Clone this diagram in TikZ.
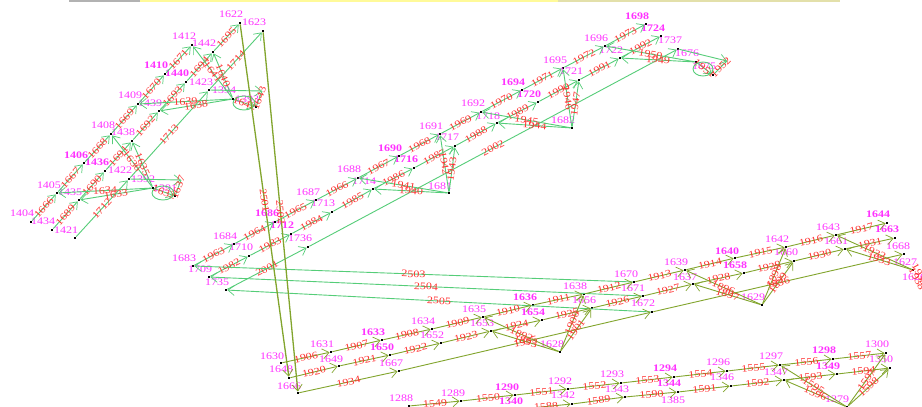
\documentclass[tikz,border=0pt]{standalone}
\usepackage{graphicx}
\usepackage{fontspec}
\setmainfont{Liberation Serif}
\usetikzlibrary{arrows.meta}
\definecolor{gline}{RGB}{85,205,120}
\definecolor{oline}{RGB}{130,165,45}
\definecolor{mlabel}{RGB}{255,50,255}
\definecolor{rlabel}{RGB}{255,50,50}
\newcommand{\wide}[1]{\scalebox{1.2}[1]{#1}}
\tikzset{
  dotnode/.style={rectangle,fill=black,inner sep=0pt,minimum size=2.4pt},
  nlab/.style={text=mlabel,font=\fontsize{10}{10}\selectfont,inner sep=0pt,anchor=center},
  nlabb/.style={nlab,font=\fontsize{10}{10}\selectfont\bfseries},
  elab/.style={text=rlabel,font=\fontsize{10}{10}\selectfont,inner sep=0pt,sloped,midway},
  headv/.style={-{Straight Barb[length=6.5pt,width=10pt,line width=.7pt]}},
  ge/.style={draw=gline,line width=.9pt,headv},
  oe/.style={draw=oline,line width=.9pt,headv},
  ol/.style={draw=oline,line width=1.3pt,headv},
  gp/.style={draw=gline,line width=.9pt},
}
\begin{document}
\begin{tikzpicture}[x=1pt,y=-1pt]
\clip (0,0) rectangle (922,407);
\fill[white] (0,0) rectangle (922,407);
% map strip along the top
\fill[black!30] (69,0) rectangle (140,2);
\fill[yellow!40] (140,0) rectangle (558,2);
\fill[olive!25] (558,0) rectangle (840,2);
% plain nodes: name/x/y/label x/label y
\foreach \n/\x/\y/\lx/\ly in {
 1404/31/222/22/213,1405/57/193/49/185,1408/111/134/103/125,1409/138/104/130/95,1412/192/45/184/36,
 1622/240/23/231/14,1434/52/230/43/221,1435/79/200/70/192,1438/132/141/123/132,1439/159/111/150/103,
 1442/213/52/204/43,1421/75/238/66/230,1422/129/179/120/170,1423/209/90/201/82,1623/263/31/254/22,
 1392/153/188/143/179,1391/175/196/165/188,1394/233/99/224/90,1393/256/107/247/99,
 1683/193/266/184/258,1684/234/244/225/236,1687/316/200/308/192,1688/358/178/349/169,1691/440/134/431/126,
 1692/481/112/473/103,1695/563/68/555/60,1696/605/46/596/38,
 1709/209/277/200/269,1710/249/256/241/247,1713/332/212/323/203,1714/373/189/364/181,1717/455/146/447/137,
 1718/497/123/488/116,1721/579/80/571/71,1722/620/58/611/50,
 1735/226/290/217/282,1736/308/247/300/238,1737/678/49/670/40,
 1681/449/193/440/186,1682/572/128/563/120,1676/696/62/687/53,1675/713/75/704/66,
 1630/281/363/272/356,1631/331/352/322/344,1634/432/329/423/321,1635/483/317/474/309,1638/584/294/575/286,
 1670/634/282/626/274,1639/685/270/676/262,1642/786/247/777/239,1643/836/235/828/227,
 1648/289/378/281/369,1649/339/366/331/359,1652/441/343/432/335,1653/491/331/482/323,1656/592/308/584/300,
 1671/643/296/633/288,1637/693/284/685/277,1660/794/261/786/252,1661/845/249/836/241,
 1666/298/393/289/386,1667/399/371/391/363,1672/652/312/643/303,1668/904/254/898/246,1627/913/270/905/262,
 1628/560/352/552/344,1629/762/305/753/297,
 1288/409/406/401/398,1289/461/401/453/393,1292/568/389/560/381,1293/621/383/612/374,1296/727/371/718/362,
 1297/780/365/771/356,1300/886/353/877/344,
 1342/572/404/563/395,1343/625/397/617/389,1346/731/386/722/377,1347/784/380/776/372,1350/890/368/881/359,
 1279/847/407/837/399}
 {\node[dotnode] (\n) at (\x,\y) {}; \node[nlab] (t\n) at (\lx,\ly) {\wide{\n}};}
% bold-looking nodes
\foreach \n/\x/\y/\lx/\ly in {
 1406/84/163/76/155,1410/165/74/156/65,1436/105/171/97/162,1440/186/82/177/73,
 1686/275/222/267/213,1690/399/156/390/148,1694/522/90/513/82,1698/646/24/637/16,
 1712/291/234/282/225,1716/414/168/406/159,1720/538/102/529/94,1724/661/36/653/28,
 1633/382/340/373/332,1636/533/305/525/297,1640/735/258/727/251,1644/887/223/878/214,
 1650/390/355/382/347,1654/542/320/533/312,1658/744/273/735/265,1663/895/238/887/229,
 1290/515/395/507/387,1294/674/377/665/368,1298/833/359/824/350,
 1340/520/409/511/401,1344/678/392/669/383,1349/837/374/828/366}
 {\node[dotnode] (\n) at (\x,\y) {}; \node[nlabb] (t\n) at (\lx,\ly) {\wide{\n}};}
% free text without a visible dot
\node[nlab] (t1385) at (673,400) {\wide{1385}};
\node[nlab] (t1626) at (914,277) {\wide{1626}};
% corners of the loop connectors
\coordinate (cA) at (181,180);
\coordinate (cC) at (262,91);
\coordinate (cF) at (727,61);
% green connectors
\foreach \a/\b/\t in {
 1404/1405/1666,1405/1406/1667,1406/1408/1668,1408/1409/1669,1409/1410/1670,1410/1412/1671,
 1434/1435/1689,1435/1436/1690,1436/1438/1691,1438/1439/1692,1439/1440/1693,1440/1442/1694,1442/1622/1695,
 1421/1422/1712,1422/1423/1713,1423/1623/1714,
 1392/1405/1634,1392/1435/1633,1392/1438/1635,1392/1408/1636,1392/1391/1632,
 1394/1409/1639,1394/1439/1638,1394/1442/1640,1394/1412/1641,1394/1393/1642,
 1683/1684/1963,1684/1686/1964,1686/1687/1965,1687/1688/1966,1688/1690/1967,1690/1691/1968,1691/1692/1969,
 1692/1694/1970,1694/1695/1971,1695/1696/1972,1696/1698/1973,
 1709/1710/1982,1710/1712/1983,1712/1713/1984,1713/1714/1985,1714/1716/1986,1716/1717/1987,1717/1718/1988,
 1718/1720/1989,1720/1721/1990,1721/1722/1991,1722/1724/1992,
 1735/1736/2001,1736/1737/2002,
 1681/1714/1940,1681/1688/1941,1681/1691/1942,1681/1717/1943,
 1682/1718/1944,1682/1692/1945,1682/1695/1946,1682/1721/1947,
 1676/1722/1949,1676/1696/1950,1676/1675/1951,
 1670/1683/2503,1671/1709/2504,1672/1735/2505}
 {\draw[ge] (\a) -- (\b) node[elab] {\wide{\t}};}
% green loops
\draw[ge] (1422) -- (cA);
\draw[gp] (cA) -- (1391) node[elab] {\wide{1637}};
\draw[ge] (1423) -- (cC);
\draw[gp] (cC) -- (1393) node[elab] {\wide{1643}};
\draw[ge] (1737) -- (cF);
\draw[gp] (cF) -- (1675) node[elab] {\wide{1952}};
\draw[gp] (163,193) ellipse (11 and 7);
\draw[gp] (244,103) ellipse (11 and 7);
\draw[gp] (703,69) ellipse (10 and 7);
% long olive connectors
\draw[ol] (1622) -- (1648) node[elab] {\wide{2501}};
\draw[ol] (1623) -- (1666) node[elab] {\wide{2502}};
% olive connectors
\foreach \a/\b/\t in {
 1630/1631/1906,1631/1633/1907,1633/1634/1908,1634/1635/1909,1635/1636/1910,1636/1638/1911,1638/1670/1912,
 1670/1639/1913,1639/1640/1914,1640/1642/1915,1642/1643/1916,1643/1644/1917,
 1648/1649/1920,1649/1650/1921,1650/1652/1922,1652/1653/1923,1653/1654/1924,1654/1656/1925,1656/1671/1926,
 1671/1637/1927,1637/1658/1928,1658/1660/1929,1660/1661/1930,1661/1663/1931,
 1666/1667/1934,1667/1672/1935,1672/1668/1936,
 1628/1635/1892,1628/1653/1893,1628/1638/1900,1628/1656/1901,
 1629/1639/1896,1629/1637/1897,1629/1642/1898,1629/1660/1899,
 1627/1643/1932,1627/1661/1933,
 1288/1289/1549,1289/1290/1550,1290/1292/1551,1292/1293/1552,1293/1294/1553,1294/1296/1554,1296/1297/1555,
 1297/1298/1556,1298/1300/1557,
 1340/1342/1588,1342/1343/1589,1343/1344/1590,1344/1346/1591,1346/1347/1592,1347/1349/1593,1349/1350/1594,
 1279/1297/1595,1279/1347/1596,1279/1300/1597,1279/1350/1598}
 {\draw[oe] (\a) -- (\b) node[elab] {\wide{\t}};}
% edge labels of connectors leaving the picture at the right
\node[text=rlabel,font=\fontsize{10}{10}\selectfont,inner sep=0pt,rotate=-62] (e1) at (917,279) {\wide{1938}};
\node[text=rlabel,font=\fontsize{10}{10}\selectfont,inner sep=0pt,rotate=-62] (e2) at (920,275) {\wide{1939}};
\end{tikzpicture}
\end{document}
